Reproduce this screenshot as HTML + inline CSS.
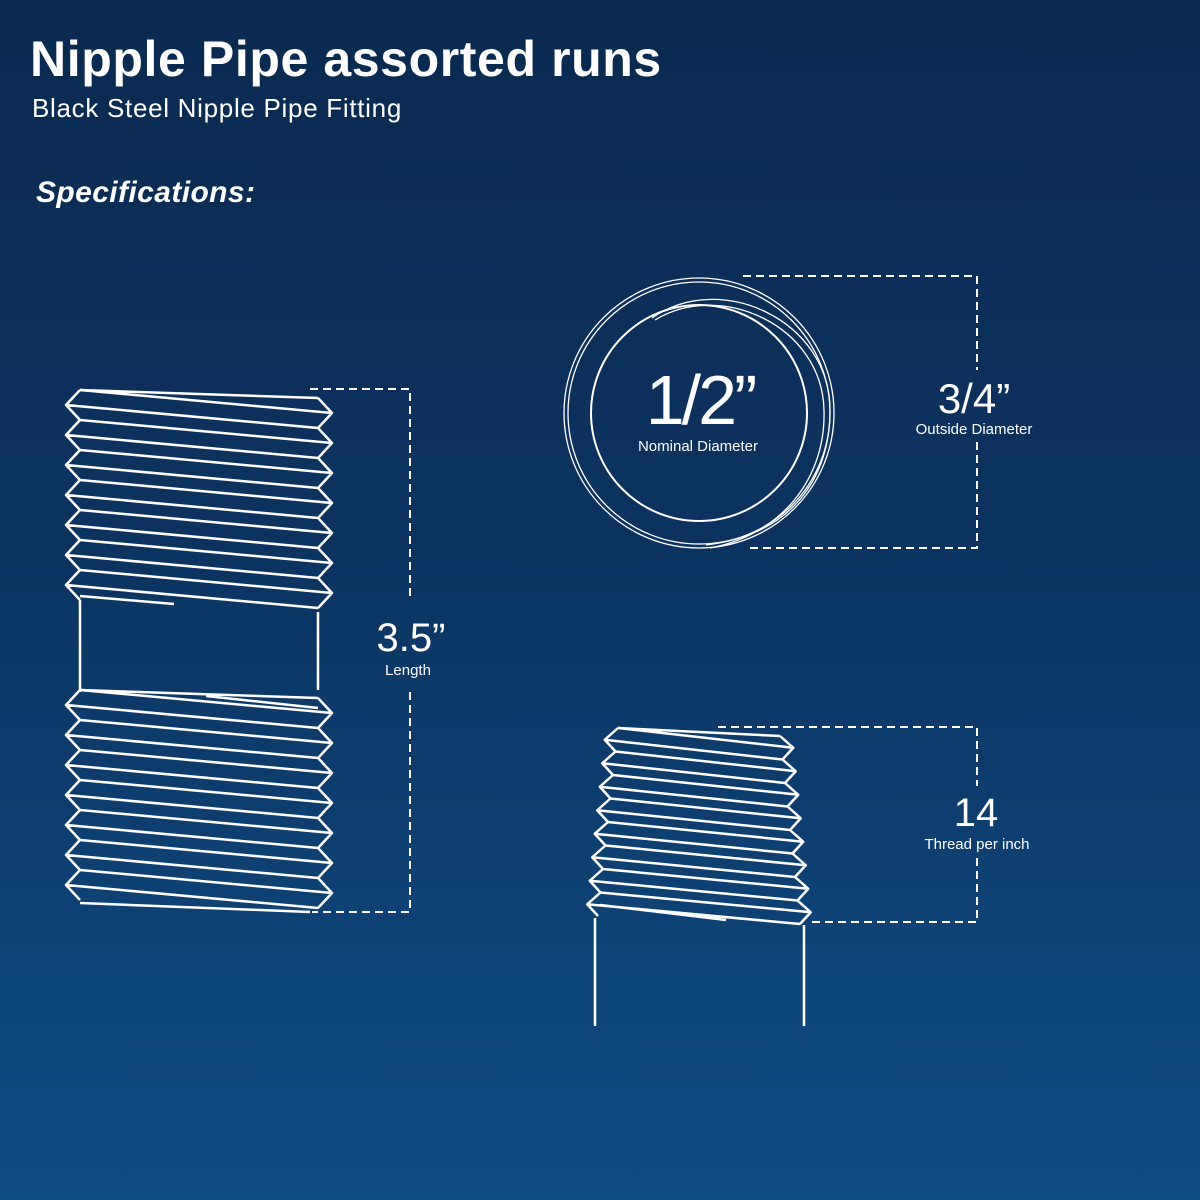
<!DOCTYPE html>
<html><head><meta charset="utf-8"><style>
html,body{margin:0;padding:0}
body{width:1200px;height:1200px;overflow:hidden;background:linear-gradient(180deg,#0a2a4f 0%,#0c3360 45%,#0e4477 80%,#114d85 100%);font-family:"Liberation Sans",sans-serif;color:#fff;position:relative}
.t{position:absolute;white-space:nowrap}
</style></head><body>
<div class="t" style="left:30px;top:30px;font-size:50px;font-weight:bold;letter-spacing:0.6px">Nipple Pipe assorted runs</div>
<div class="t" style="left:32px;top:93px;font-size:26px;letter-spacing:0.7px">Black Steel Nipple Pipe Fitting</div>
<div class="t" style="left:36px;top:176px;font-size:30px;font-weight:bold;font-style:italic;letter-spacing:0.4px">Specifications:</div>
<svg id="s" width="1200" height="1200" style="position:absolute;left:0;top:0" fill="none" stroke="#fff" stroke-width="2.5" stroke-linejoin="round">
<g stroke-width="2" stroke-dasharray="8,5">
<path d="M310 389H410V598M410 692V912H312"/>
<path d="M743 276H977V370M977 442V548H748"/>
<path d="M718 727H977V786M977 858V922H812"/>
</g>
<g stroke-width="1.3">
<circle cx="699" cy="413" r="135"/>
<circle cx="699" cy="413" r="131"/>
<circle cx="699" cy="413" r="108" stroke-width="2"/>
<path d="M652 318 C720 270 830 320 830 410 C830 480 790 535 706 545"/>
<path d="M655 320 C720 280 822 325 824 410 C826 480 780 535 710 548"/>
</g>
<g id="g" stroke-width="2.5"></g>
<g stroke-width="2.5">
<path d="M80 600V692M318 612V690"/>
<path d="M595 918V1026M804 925V1026"/>
</g>
<g fill="#fff" stroke="none" font-family="Liberation Sans, sans-serif">
<text x="700" y="424" font-size="70" text-anchor="middle" letter-spacing="-3">1/2”</text>
<text x="698" y="451" font-size="15" text-anchor="middle">Nominal Diameter</text>
<text x="974" y="413" font-size="42" text-anchor="middle">3/4”</text>
<text x="974" y="434" font-size="15" text-anchor="middle">Outside Diameter</text>
<text x="411" y="651" font-size="40" text-anchor="middle">3.5”</text>
<text x="408" y="675" font-size="15" text-anchor="middle">Length</text>
<text x="976" y="826" font-size="40" text-anchor="middle">14</text>
<text x="977" y="849" font-size="15" text-anchor="middle">Thread per inch</text>
</g>
</svg>
<script>
var g=document.getElementById('g'),d='';
function thr(y0,n,p,xl0,xl1,xr0,xr1,o,a){
 function lx(t){return xl0+(xl1-xl0)*t;} function rx(t){return xr0+(xr1-xr0)*t;}
 var L='',R='';
 for(var k=0;k<n;k++){
  var y=y0+k*p,t=k/n,t2=(k+.5)/n,t3=(k+1)/n;
  var li=lx(t)+a,lo=lx(t2),li2=lx(t3)+a;
  var ri=rx(t)-a,ro=rx(t2),ri2=rx(t3)-a;
  L+=(k?'L':'M')+li+' '+y+'L'+lo+' '+(y+p/2)+'L'+li2+' '+(y+p);
  R+=(k?'L':'M')+ri+' '+(y+o)+'L'+ro+' '+(y+o+p/2)+'L'+ri2+' '+(y+o+p);
  d+='M'+li+' '+y+'L'+ro+' '+(y+o+p/2)+'M'+lo+' '+(y+p/2)+'L'+ri2+' '+(y+o+p);
 }
 d+=L+R+'M'+(lx(0)+a)+' '+y0+'L'+(rx(0)-a)+' '+(y0+o);
}
thr(390,7,30,66,66,332,332,8,14);
thr(690,7,30,66,66,332,332,8,14);
thr(728,8,23.5,606,586,792,812,8,12);
d+='M80 596L174 604M206 696L318 708M80 903L310 912M600 905L726 920';
var p=document.createElementNS('http://www.w3.org/2000/svg','path');p.setAttribute('d',d);g.appendChild(p);
</script>
</body></html>
